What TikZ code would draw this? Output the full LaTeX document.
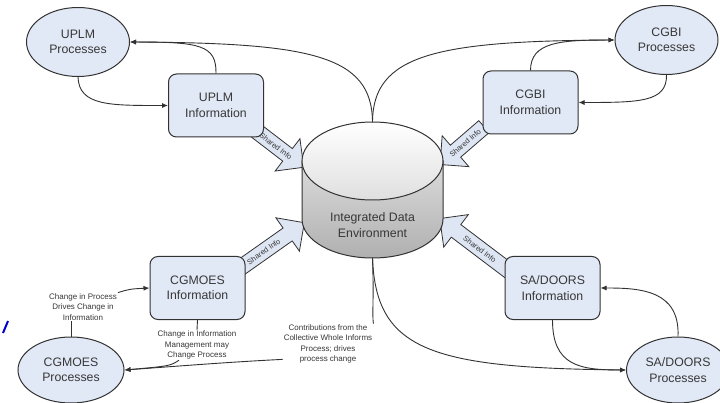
\documentclass[tikz,border=0pt]{standalone}
\usepackage{fontspec}
\setmainfont{Liberation Sans}
\usetikzlibrary{shapes.geometric,shapes.arrows,arrows.meta}
\definecolor{boxfill}{RGB}{226,233,246}
\definecolor{linec}{RGB}{50,50,50}
\definecolor{txt}{RGB}{55,55,55}
\definecolor{arrfill}{RGB}{222,230,244}
\newcommand\labfont{\fontsize{12.3}{15.5}\selectfont}
\newcommand\notefont{\fontsize{8}{10.3}\selectfont}
\tikzset{
  infobox/.style={draw=linec, line width=1pt, fill=boxfill, rounded corners=8pt,
    minimum width=95pt, minimum height=63pt, align=center, font=\labfont, text=txt},
  procell/.style={ellipse, draw=linec, line width=1pt, fill=boxfill,
    minimum width=103pt, minimum height=69pt, inner sep=0pt, align=center, font=\labfont, text=txt},
  conn/.style={draw=linec, line width=0.9pt, -{Latex[length=6pt,width=5pt]}},
  plainline/.style={draw=linec, line width=0.9pt},
  note/.style={font=\notefont, text=txt, align=center, inner sep=1pt},
  sharedarr/.style={single arrow, draw=linec, line width=0.8pt, fill=arrfill,
    single arrow head extend=12.5pt, font=\fontsize{7.5}{8}\selectfont, text=txt,
    text height=6pt, text depth=0pt, inner ysep=4.5pt, inner xsep=1pt}
}
\begin{document}
\begin{tikzpicture}[x=1pt, y=-1pt]
\useasboundingbox (0,0) rectangle (720,403);
\fill[white] (0,0) rectangle (720,403);

% shared info arrows (under boxes)
\node[sharedarr, minimum height=62pt, rotate=-37.5] (sa1) at (276,146) {Shared Info};
\node[sharedarr, minimum height=58pt, rotate=40.8, shape border rotate=180] (sa2) at (465,143) {Shared Info};
\node[sharedarr, minimum height=92pt, rotate=35.2] (sa3) at (263.5,251.5) {Shared Info};
\node[sharedarr, minimum height=93pt, rotate=-37.1, shape border rotate=180] (sa4) at (480,249) {Shared Info};

% cylinder
\path[top color=gray!28, bottom color=gray!62, draw=linec, line width=1pt]
  (302,161) -- (302,219) arc[start angle=180, end angle=0, x radius=70.5, y radius=39] -- (443,161) -- cycle;
\path[top color=white, bottom color=gray!25, draw=linec, line width=1pt]
  (372.5,161) ellipse[x radius=70.5, y radius=39];
\node[font=\labfont, text=txt, align=center] (ide) at (372.5,225) {Integrated Data\\Environment};
\coordinate (idetop) at (372.5,122);
\coordinate (idebot) at (372.5,258);

% boxes and ellipses
\node[procell] (uproc) at (78,42) {UPLM\\Processes};
\node[infobox] (uinfo) at (216,105.5) {UPLM\\Information};
\node[procell] (cproc) at (666.5,40) {CGBI\\Processes};
\node[infobox] (cinfo) at (530.5,102.5) {CGBI\\Information};
\node[infobox] (minfo) at (197.5,288) {CGMOES\\Information};
\node[procell, minimum width=106pt, minimum height=66pt] (mproc) at (71,370) {CGMOES\\Processes};
\node[infobox] (sinfo) at (552.5,288) {SA/DOORS\\Information};
\node[procell, minimum height=66pt] (sproc) at (678,370) {SA/DOORS\\Processes};

% notes
\node[note] (lab1) at (83,307) {Change in Process\\Drives Change in\\Information};
\node[note] (lab2) at (197,345) {Change in Information\\Management may\\Change Process};
\node[note] (lab3) at (328,344) {Contributions from the\\Collective Whole Informs\\Process; drives\\process change};

% connectors top
\draw[conn] (uinfo.north) .. controls (216.5,45) and (200,42) .. (uproc.east);
\draw[conn] (idetop) .. controls (372,55) and (310,43) .. (uproc.east);
\draw[conn] (uproc.south) .. controls (79,106) and (110,105.5) .. (uinfo.west);
\draw[conn] (idetop) .. controls (373,55) and (435,41) .. (cproc.west);
\draw[conn] (cinfo.north) .. controls (530.5,42) and (560,40) .. (cproc.west);
\draw[conn] (cproc.south) .. controls (667,102) and (640,102.5) .. (cinfo.east);

% connectors bottom
\draw[conn] (idebot) .. controls (376,350) and (430,368) .. (sproc.west);
\draw[conn] (sinfo.south) .. controls (552.5,366) and (580,370) .. (sproc.west);
\draw[conn] (sproc.north) .. controls (680,290) and (640,288) .. (sinfo.east);
\draw[plainline] (idebot) .. controls (374,300) and (372,315) .. (lab3.north east);
\draw[conn] ([yshift=5pt]lab3.south west) .. controls (230,362) and (180,366) .. (mproc.east);
\draw[conn] ([xshift=-18pt]lab2.south) .. controls (170,366) .. (mproc.east);
\draw[plainline] (minfo.south) -- (lab2.north);
\draw[plainline] (mproc.north) -- (mproc.north |- lab1.south);
\draw[conn] (lab1.north east) .. controls (130,289) .. (minfo.west);

% clipped blue fragment at the left edge
\draw[blue!80!black, line width=2pt] (3,333) -- (8,321);
\end{tikzpicture}
\end{document}
